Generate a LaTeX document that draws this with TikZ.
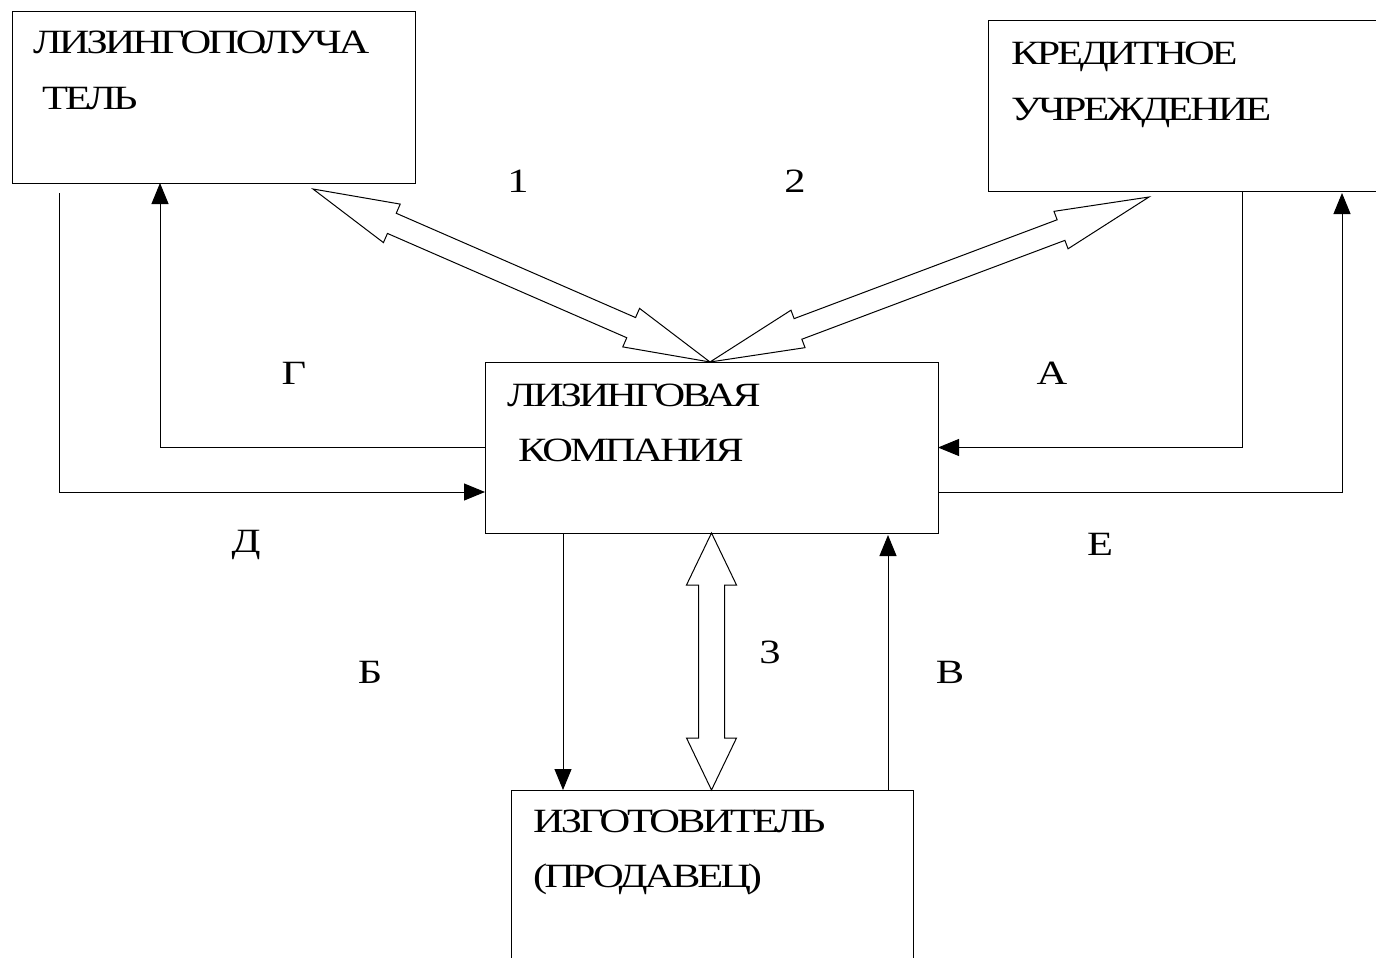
\documentclass[tikz,border=0pt]{standalone}
\usepackage{fontspec}
\setmainfont{Liberation Serif}
\newfontfamily\boxfont[FakeStretch=1.25,LetterSpace=-9]{Liberation Serif}
\newfontfamily\lblfont[FakeStretch=1.25]{Liberation Serif}
\usepackage{tikz}
\usetikzlibrary{positioning,arrows.meta,calc}
\tikzset{
  party/.style={draw, line width=1pt, inner sep=0pt, outer sep=0pt, anchor=north west},
  partytxt/.style={font=\boxfont\fontsize{34}{40}\selectfont, inner sep=0pt, anchor=base west},
  lbl/.style={font=\lblfont\fontsize{34}{40}\selectfont, inner sep=0pt, anchor=base},
  flow/.style={-{Triangle[length=21pt,width=17pt]}, line width=1pt},
  blockarr/.style={draw, line width=1pt, fill=white, line join=miter}
}
% hollow two-headed arrow: from, to, head length, head half width, shaft half width
\newcommand{\dblarrow}[5]{%
  \coordinate (ab) at ($(#1)!#3!(#2)$);
  \coordinate (bb) at ($(#2)!#3!(#1)$);
  \draw[blockarr] (#1) -- ($(ab)!#4!90:(#2)$) -- ($(ab)!#5!90:(#2)$)
    -- ($(bb)!#5!-90:(#1)$) -- ($(bb)!#4!-90:(#1)$) -- (#2)
    -- ($(bb)!#4!90:(#1)$) -- ($(bb)!#5!90:(#1)$)
    -- ($(ab)!#5!-90:(#2)$) -- ($(ab)!#4!-90:(#2)$) -- cycle;
}

\begin{document}
\begin{tikzpicture}[x=1pt, y=-1pt]
\useasboundingbox (0,0) rectangle (1376,958);
\clip (0,0) rectangle (1376,958);
\fill[white] (0,0) rectangle (1376,958);

\node[party, minimum width=403pt, minimum height=171pt] (lessee) at (12,12) {};
\node[party, minimum width=420pt, minimum height=170pt] (bank) at (988,21) {};
\node[party, minimum width=453pt, minimum height=171pt] (company) at (485,362) {};
\node[party, minimum width=402pt, minimum height=200pt] (maker) at (511,790) {};

\node[partytxt] (lesseeA) at ($(lessee.north west)+(21,42)$) {ЛИЗИНГОПОЛУЧА};
\node[partytxt] (lesseeB) at ($(lessee.north west)+(30,98)$) {ТЕЛЬ};
\node[partytxt] (bankA) at ($(bank.north west)+(23,44)$) {КРЕДИТНОЕ};
\node[partytxt] (bankB) at ($(bank.north west)+(23,99)$) {УЧРЕЖДЕНИЕ};
\node[partytxt] (companyA) at ($(company.north west)+(22,44)$) {ЛИЗИНГОВАЯ};
\node[partytxt] (companyB) at ($(company.north west)+(33,99)$) {КОМПАНИЯ};
\node[partytxt] (makerA) at ($(maker.north west)+(22,42)$) {ИЗГОТОВИТЕЛЬ};
\node[partytxt] (makerB) at ($(maker.north west)+(22,97)$) {(ПРОДАВЕЦ)};

% thin flows
\draw[flow] (company.west) -| ($(lessee.south west)+(148,0)$);
\draw[flow] ($(lessee.south west)+(47,10)$) |- ($(company.south west)+(0,-41)$);
\draw[flow] ($(bank.south west)+(254,0)$) |- (company.east);
\draw[flow] ($(company.south east)+(0,-41)$) -| ($(bank.south west)+(354,2)$);
\draw[flow] ($(company.south west)+(78,0)$) -- ($(maker.north west)+(52,0)$);
\draw[flow] ($(maker.north west)+(377,0)$) -- ($(company.south west)+(403,2)$);

% hollow arrows
\coordinate (hub) at ($(company.north west)+(225,0)$);
\coordinate (tipL) at ($(lessee.south east)+(-102,6)$);
\coordinate (tipR) at ($(bank.south west)+(161,6)$);
\coordinate (tipB) at (company.south |- maker.north);
\dblarrow{tipL}{hub}{86pt}{21pt}{11pt}
\dblarrow{hub}{tipR}{94pt}{20pt}{11pt}
\dblarrow{company.south}{tipB}{52pt}{25pt}{13pt}

\node[lbl] (l1) at (518,192) {1};
\node[lbl] (l2) at (795,192) {2};
\node[lbl] (l3) at (770,663) {3};
\node[lbl] (lA) at (1052,384) {А};
\node[lbl] (lB) at (370,683) {Б};
\node[lbl] (lV) at (950,683) {В};
\node[lbl] (lG) at (294,384) {Г};
\node[lbl] (lD) at (246,552) {Д};
\node[lbl] (lE) at (1100,555) {Е};
\end{tikzpicture}
\end{document}
